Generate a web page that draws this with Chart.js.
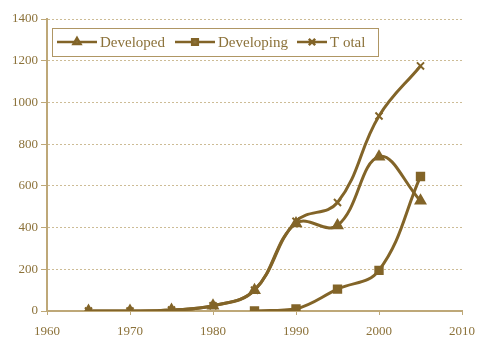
<!DOCTYPE html>
<html>
<head>
<meta charset="utf-8">
<script src="https://cdn.jsdelivr.net/npm/chart.js@4"></script>
<style>
  body { margin: 0; background: #fff; }
  #wrap { width: 477px; height: 337px; }
</style>
</head>
<body>
<div id="wrap"><canvas id="myChart" width="477" height="337"></canvas></div>
<script>
// data
const years = [1965, 1970, 1975, 1980, 1985, 1990, 1995, 2000, 2005];
const developed = [0, 0, 5, 25, 100, 420, 410, 740, 528];
const developing = [null, null, null, null, 0, 10, 105, 195, 645];
const total = [0, 0, 5, 25, 100, 430, 520, 935, 1175];
const seriesNames = ["Developed", "Developing", "T otal"];
const xTicks = [1960, 1970, 1980, 1990, 2000, 2010];

const lineColor = "rgb(130, 100, 40)";
const textColor = "rgb(140, 114, 58)";
const gridColor = "rgb(205, 188, 150)";
const axisColor = "rgb(190, 168, 120)";

function points(vals) {
  return years.map((y, i) => ({ x: y, y: vals[i] }));
}

// legend drawn inside the plot, in a box like the original
const boxLegend = {
  id: "boxLegend",
  afterDraw(chart) {
    const ctx = chart.ctx;
    ctx.save();
    ctx.strokeStyle = "rgb(175, 150, 100)";
    ctx.lineWidth = 1;
    ctx.strokeRect(52.5, 28.5, 326, 28);
    ctx.font = "15px 'Liberation Serif', serif";
    ctx.textBaseline = "middle";
    ctx.fillStyle = textColor;
    const items = [
      { x: 57, len: 40, tx: 100 },
      { x: 175, len: 40, tx: 218 },
      { x: 297, len: 30, tx: 330 }
    ];
    const y = 42;
    chart.data.datasets.forEach((ds, i) => {
      const it = items[i];
      ctx.strokeStyle = lineColor;
      ctx.lineWidth = 2.5;
      ctx.beginPath();
      ctx.moveTo(it.x, y);
      ctx.lineTo(it.x + it.len, y);
      ctx.stroke();
      Chart.helpers.drawPoint(ctx, {
        pointStyle: ds.pointStyle, radius: ds.pointRadius - 0.5, borderWidth: 2
      }, it.x + it.len / 2, y);
      ctx.fillText(ds.label, it.tx, y + 1);
    });
    ctx.restore();
  }
};

const ctx = document.getElementById("myChart").getContext("2d");
const chart = new Chart(ctx, {
  type: "line",
  data: {
    datasets: [
      {
        label: seriesNames[0],
        data: points(developed),
        borderColor: lineColor,
        backgroundColor: lineColor,
        borderWidth: 3,
        pointStyle: "triangle",
        pointRadius: 4.5,
        tension: 0.4
      },
      {
        label: seriesNames[1],
        data: points(developing),
        borderColor: lineColor,
        backgroundColor: lineColor,
        borderWidth: 3,
        pointStyle: "rect",
        pointRadius: 4.5,
        tension: 0.4
      },
      {
        label: seriesNames[2],
        data: points(total),
        borderColor: lineColor,
        backgroundColor: lineColor,
        borderWidth: 3,
        pointStyle: "crossRot",
        pointRadius: 5,
        pointBorderWidth: 2,
        tension: 0.4
      }
    ]
  },
  options: {
    responsive: false,
    animation: false,
    spanGaps: false,
    layout: { padding: { left: 0, right: 15, top: 19, bottom: 0 } },
    plugins: { legend: { display: false }, tooltip: { enabled: false } },
    scales: {
      x: {
        type: "linear",
        min: 1960,
        max: 2010,
        afterBuildTicks(s) { s.ticks = xTicks.map(v => ({ value: v })); },
        afterFit(s) { s.height = 26; s.paddingLeft = 0; s.paddingRight = 0; },
        grid: { display: true, drawOnChartArea: false, drawTicks: true, tickLength: 4, color: axisColor },
        border: { color: axisColor, width: 2 },
        ticks: {
          color: textColor,
          font: { family: "'Liberation Serif', serif", size: 13 },
          padding: 9,
          maxRotation: 0,
          callback: v => String(v)
        }
      },
      y: {
        min: 0,
        max: 1400,
        afterFit(s) { s.width = 47; s.paddingTop = 0; s.paddingBottom = 0; },
        grid: { color: gridColor, lineWidth: 1, tickLength: 6, tickColor: axisColor },
        border: { color: axisColor, width: 2, dash: [2, 2] },
        ticks: {
          stepSize: 200,
          color: textColor,
          font: { family: "'Liberation Serif', serif", size: 13 },
          padding: 3,
          callback: v => String(v)
        }
      }
    }
  },
  plugins: [boxLegend]
});
</script>
</body>
</html>
